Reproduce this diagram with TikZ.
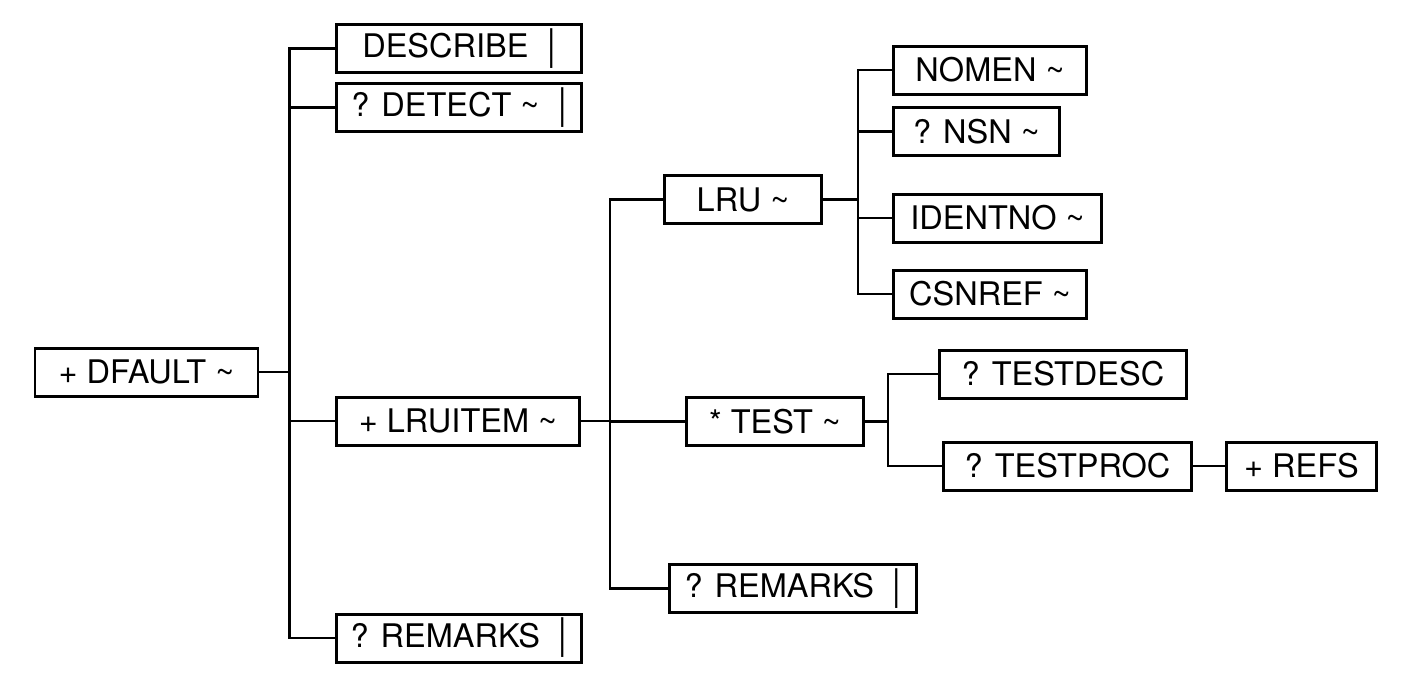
\documentclass[tikz,border=0pt]{standalone}
\usepackage{fontspec}
\setmainfont{TeX Gyre Heros}
\usetikzlibrary{positioning}

\newcommand{\tbar}{\hspace{0.3em}\raisebox{-0.05em}{\scalebox{1}[1.3]{|}}}
\newcommand{\ttil}{\textasciitilde}

\begin{document}
\begin{tikzpicture}[
    node distance=0.16cm,
    box/.style={rectangle, draw=black, line width=1.7pt, minimum height=0.96cm, inner sep=2pt, font=\fontsize{18.5}{20}\selectfont},
    link/.style={draw=black, line width=1.3pt}
]
\useasboundingbox (0,0) rectangle (28.08,-13.70);

% Nodes
\node (Dfault) [box, minimum width=4.46cm] at (2.93,-7.44) {+ DFAULT \ttil};

\node (Describe) [box, minimum width=4.90cm, anchor=west] at (6.70,-0.97) {DESCRIBE \tbar};
\node (Detect) [box, minimum width=4.90cm, below=of Describe] {? DETECT \ttil\ \tbar};
\node (LruItem) [box, minimum width=4.86cm, anchor=west] at (6.70,-8.42) {+ LRUITEM \ttil};
\node (RemarksA) [box, minimum width=4.90cm, anchor=west] at (6.70,-12.76) {? REMARKS \tbar};

\node (Lru) [box, minimum width=3.14cm, anchor=west] at (13.26,-3.99) {LRU \ttil};
\node (Test) [box, minimum width=3.54cm, anchor=west] at (13.70,-8.43) {* TEST \ttil};
\node (RemarksB) [box, minimum width=4.94cm, anchor=west] at (13.36,-11.77) {? REMARKS \tbar};

\node (Nomen) [box, minimum width=3.86cm, anchor=west] at (17.84,-1.40) {NOMEN \ttil};
\node (Nsn) [box, minimum width=3.32cm, anchor=west] at (17.84,-2.63) {? NSN \ttil};
\node (IdentNo) [box, minimum width=4.16cm, anchor=west] at (17.84,-4.36) {IDENTNO \ttil};
\node (CsnRef) [box, minimum width=3.86cm, anchor=west] at (17.84,-5.88) {CSNREF \ttil};

\node (TestDesc) [box, minimum width=4.94cm, anchor=west] at (18.76,-7.48) {? TESTDESC};
\node (TestProc) [box, minimum width=4.96cm, anchor=west] at (18.84,-9.32) {? TESTPROC};
\node (Refs) [box, minimum width=3.00cm, right=0.64cm of TestProc] {+ REFS};

% Connectors
\draw [link] (Dfault.east) -- ++(0.60,0) coordinate (jDfault);
\foreach \n in {Describe, Detect, LruItem, RemarksA}
    \draw [link] (jDfault) |- (\n.west);

\draw [link] (LruItem.east) -- ++(0.58,0) coordinate (jLruItem);
\foreach \n in {Lru, Test, RemarksB}
    \draw [link] (jLruItem) |- (\n.west);

\draw [link] (Lru.east) -- ++(0.70,0) coordinate (jLru);
\foreach \n in {Nomen, Nsn, IdentNo, CsnRef}
    \draw [link] (jLru) |- (\n.west);

\draw [link] (Test.east) -- ++(0.46,0) coordinate (jTest);
\foreach \n in {TestDesc, TestProc}
    \draw [link] (jTest) |- (\n.west);

\draw [link] (TestProc) -- (Refs);

\end{tikzpicture}
\end{document}
